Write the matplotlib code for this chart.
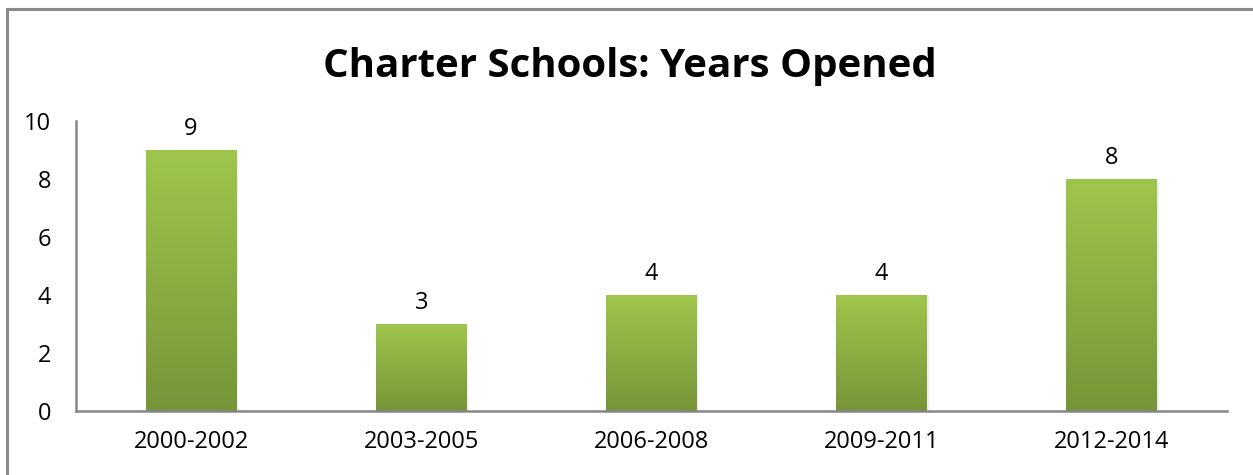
import matplotlib
matplotlib.use("Agg")
import matplotlib.pyplot as plt
import numpy as np
from matplotlib.colors import LinearSegmentedColormap
from matplotlib.patches import Rectangle

categories = ["2000-2002", "2003-2005", "2006-2008", "2009-2011", "2012-2014"]
values = [9, 3, 4, 4, 8]
yticks = [0, 2, 4, 6, 8, 10]
title = "Charter Schools: Years Opened"

W, H = 1253, 475
fig = plt.figure(figsize=(W / 100, H / 100), dpi=100)
fig.patch.set_facecolor("white")

# outer border (only top/left visible in frame)
fig.add_artist(Rectangle((6.5 / W, -0.1), 1.2, 1 - 8.5 / H + 0.1, transform=fig.transFigure,
                         fill=False, edgecolor="#8a8a8a", linewidth=2.2))

ax = fig.add_axes([76 / W, 1 - 411 / H, (1227 - 76) / W, (411 - 121) / H])
ax.set_xlim(-0.5, len(categories) - 0.5)
ax.set_ylim(0, 10)

font = "Open Sans"
cmap = LinearSegmentedColormap.from_list("g", ["#769538", "#9fc64c"])
grad = np.linspace(0, 1, 256).reshape(-1, 1)
x = np.arange(len(categories))
bw = 0.395
bars = ax.bar(x, values, width=bw, color="none", edgecolor="none", zorder=2)
for b, v in zip(bars, values):
    x0 = b.get_x()
    # soft shadow
    ax.add_patch(Rectangle((x0 + 0.006, 0), bw, v - 0.03, facecolor="#000000", alpha=0.07,
                           edgecolor="none", zorder=1.5))
    ax.imshow(grad, extent=[x0, x0 + bw, 0, v], origin="lower", cmap=cmap,
              aspect="auto", zorder=2, interpolation="bicubic")
    ax.text(b.get_x() + bw / 2, v + 0.3, str(v), ha="center", va="bottom",
            fontsize=17, family=font, color="#000000")

ax.set_xlim(-0.5, len(categories) - 0.5)
ax.set_ylim(0, 10)
ax.set_xticks(x)
ax.set_xticklabels(categories, fontsize=17, family=font)
ax.set_yticks(yticks)
ax.set_yticklabels([str(t) for t in yticks], fontsize=17, family=font)
ax.tick_params(axis="both", length=0)
ax.tick_params(axis="y", pad=18)
ax.tick_params(axis="x", pad=14)
for s in ["top", "right"]:
    ax.spines[s].set_visible(False)
for s in ["left", "bottom"]:
    ax.spines[s].set_color("#868686")
    ax.spines[s].set_linewidth(1.8)
ax.spines["bottom"].set_zorder(3)

fig.text(630 / W, 1 - 67 / H, title, ha="center", va="center", fontsize=29,
         fontweight="bold", family=font, color="#000000")

fig.savefig("out.png", dpi=100, facecolor="white")
